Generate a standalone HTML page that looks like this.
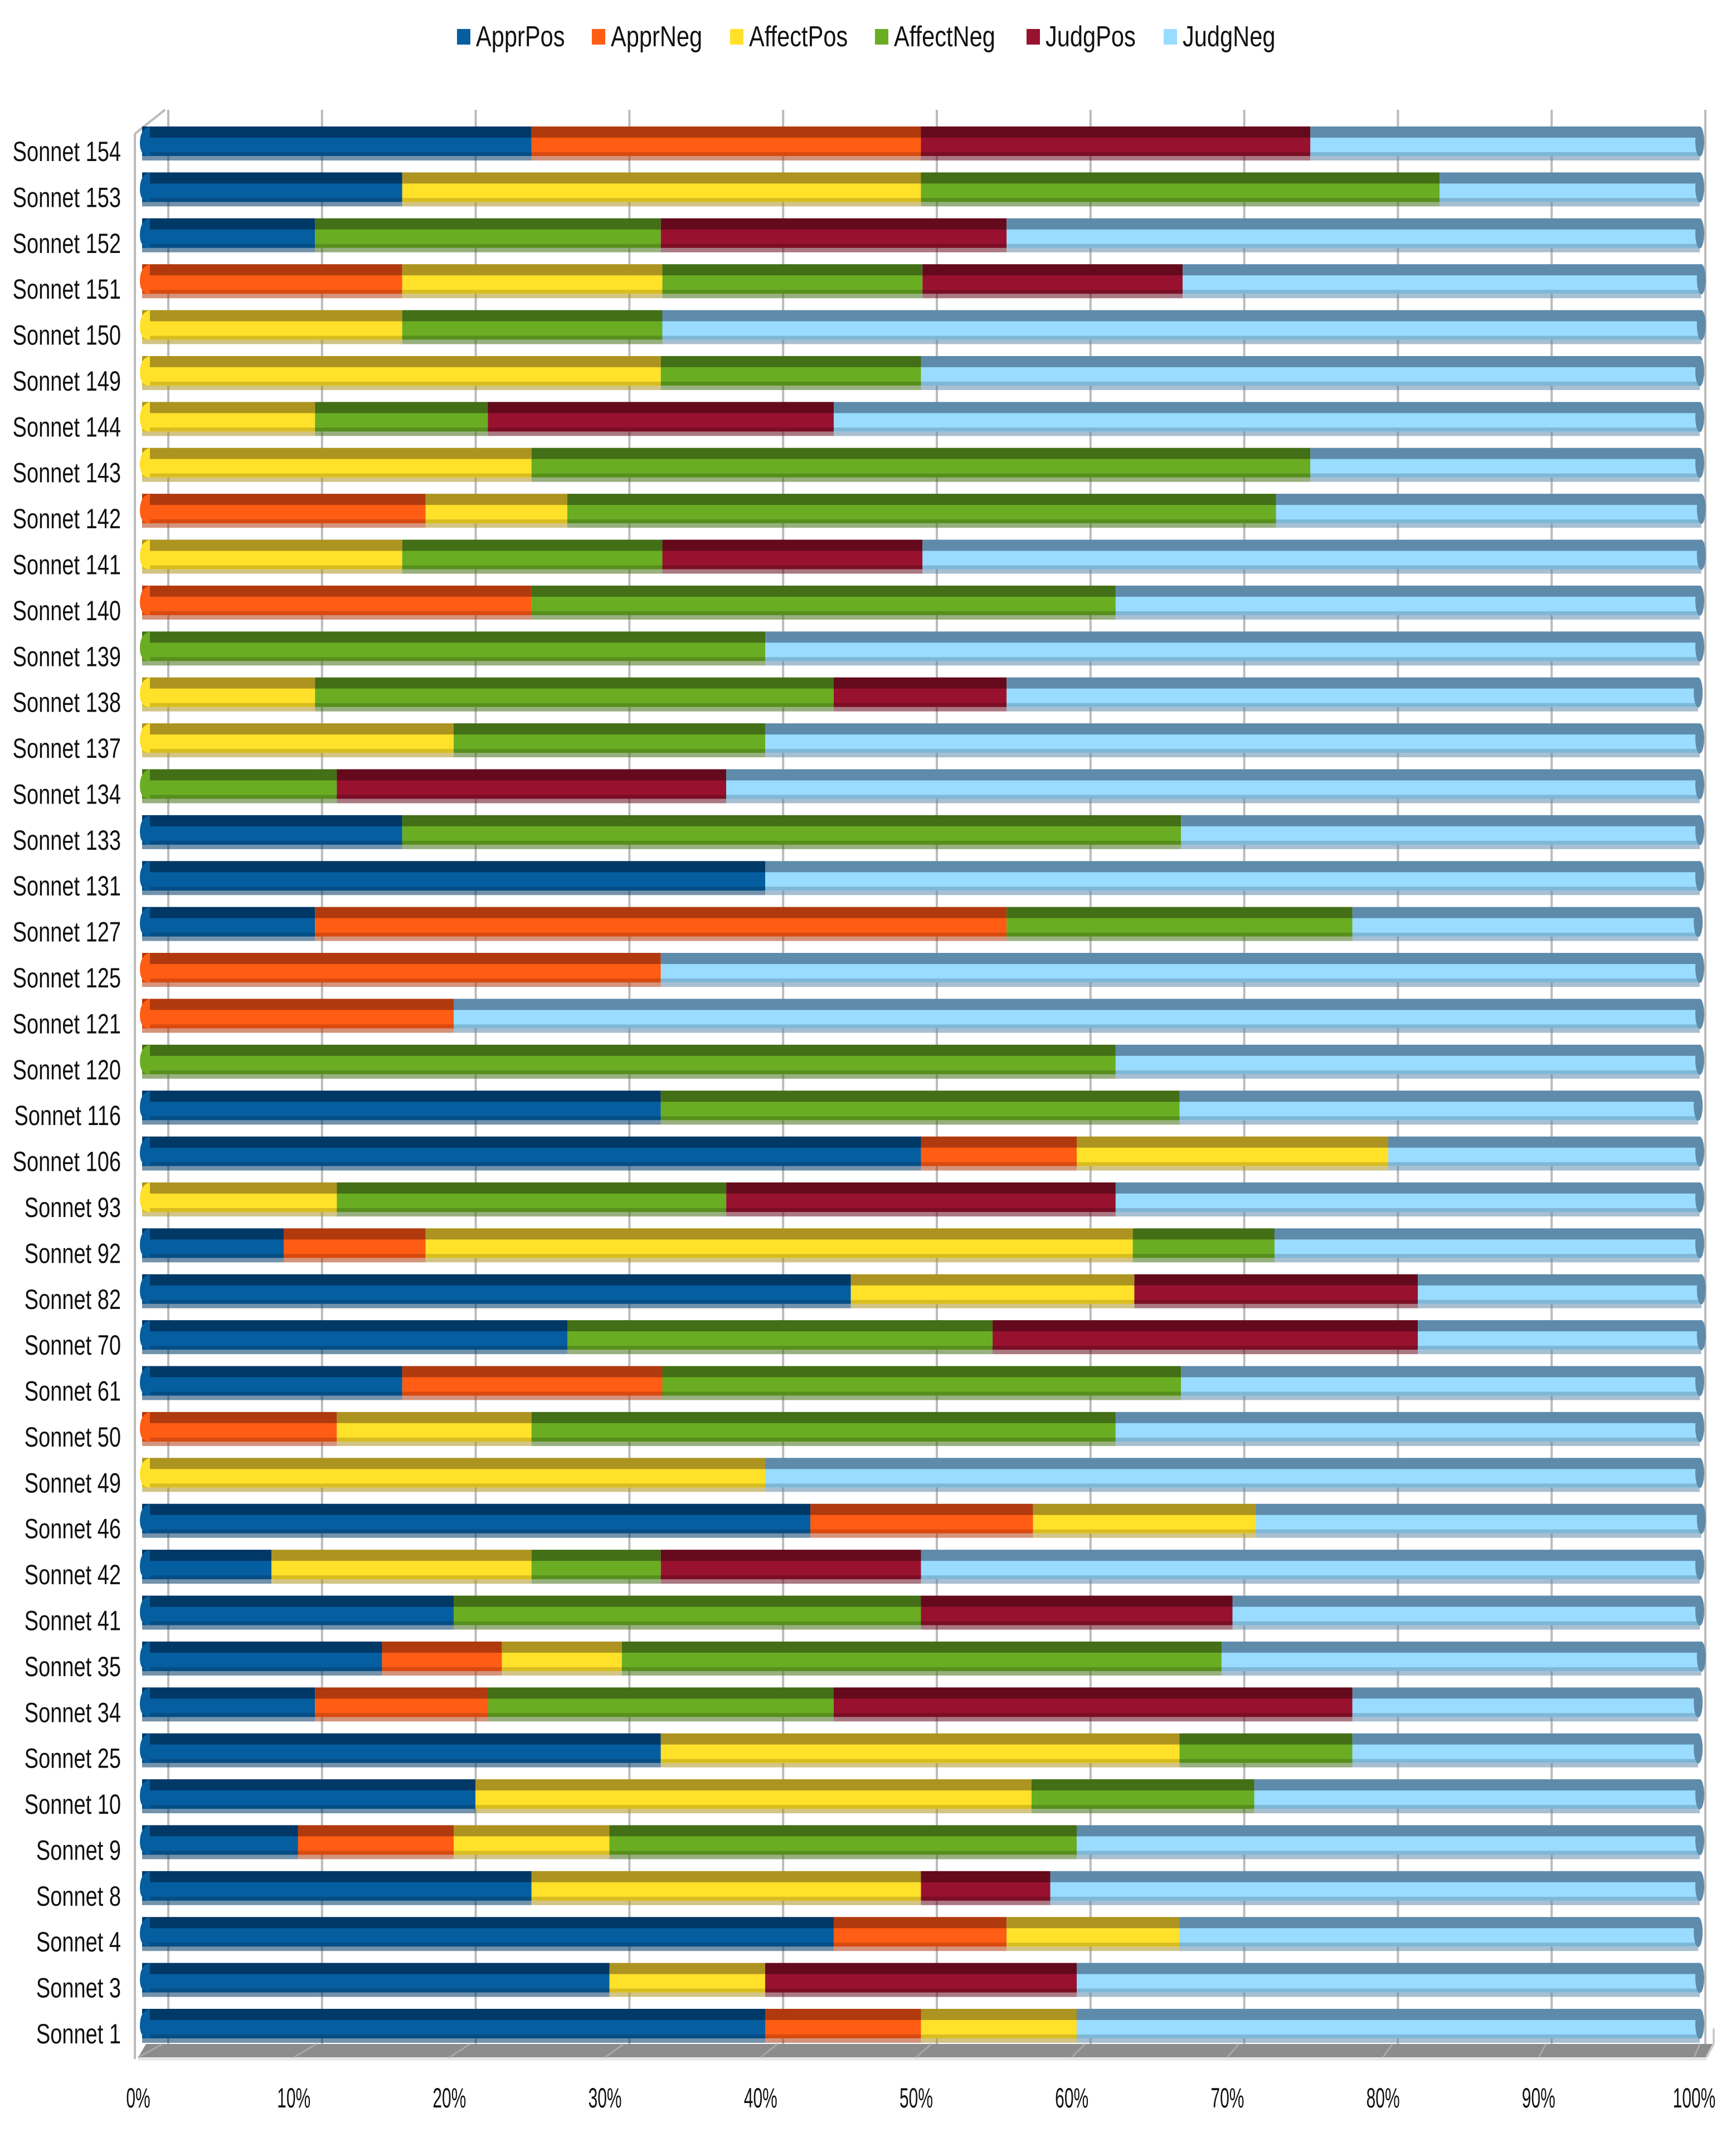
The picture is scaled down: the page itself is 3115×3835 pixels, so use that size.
<!DOCTYPE html>
<html><head><meta charset="utf-8"><style>
html,body{margin:0;padding:0;background:#fff;}
svg{display:block;font-family:"Liberation Sans",sans-serif;}
</style></head>
<body>
<svg id="chart" width="3115" height="3835" viewBox="0 0 3115 3835" xmlns="http://www.w3.org/2000/svg">
<g id="legend"></g>
<g id="walls"></g>
<g id="bars"></g>
<g id="ylabels"></g>
<g id="xlabels"></g>
</svg>
<script>
const categories = ["Sonnet 154","Sonnet 153","Sonnet 152","Sonnet 151","Sonnet 150","Sonnet 149","Sonnet 144","Sonnet 143","Sonnet 142","Sonnet 141","Sonnet 140","Sonnet 139","Sonnet 138","Sonnet 137","Sonnet 134","Sonnet 133","Sonnet 131","Sonnet 127","Sonnet 125","Sonnet 121","Sonnet 120","Sonnet 116","Sonnet 106","Sonnet 93","Sonnet 92","Sonnet 82","Sonnet 70","Sonnet 61","Sonnet 50","Sonnet 49","Sonnet 46","Sonnet 42","Sonnet 41","Sonnet 35","Sonnet 34","Sonnet 25","Sonnet 10","Sonnet 9","Sonnet 8","Sonnet 4","Sonnet 3","Sonnet 1"];
const seriesNames = ["ApprPos","ApprNeg","AffectPos","AffectNeg","JudgPos","JudgNeg"];
const apprPos  = [25,16.7,11.1,0,0,0,0,0,0,0,0,0,0,0,0,16.7,40,11.1,0,0,0,33.3,50,0,9.1,45.5,27.3,16.7,0,0,42.9,8.3,20,15.4,11.1,33.3,21.4,10,25,44.4,30,40];
const apprNeg  = [25,0,0,16.7,0,0,0,0,18.2,0,25,0,0,0,0,0,0,44.4,33.3,20,0,0,10,0,9.1,0,0,16.7,12.5,0,14.3,0,0,7.7,11.1,0,0,10,0,11.1,0,10];
const affectPos= [0,33.3,0,16.7,16.7,33.3,11.1,25,9.1,16.7,0,0,11.1,20,0,0,0,0,0,0,0,0,20,12.5,45.4,18.2,0,0,12.5,40,14.3,16.7,0,7.7,0,33.3,35.7,10,25,11.1,10,10];
const affectNeg= [0,33.3,22.2,16.7,16.7,16.7,11.1,50,45.5,16.7,37.5,40,33.3,20,12.5,50,0,22.2,0,0,62.5,33.3,0,25,9.1,0,27.3,33.3,37.5,0,0,8.3,30,38.5,22.2,11.1,14.3,30,0,0,0,0];
const judgPos  = [25,0,22.2,16.7,0,0,22.2,0,0,16.7,0,0,11.1,0,25,0,0,0,0,0,0,0,0,25,0,18.2,27.3,0,0,0,0,16.7,20,0,33.3,0,0,0,8.3,0,20,0];
const judgNeg  = [25,16.7,44.5,33.3,66.7,50,55.6,25,27.3,50,37.5,60,44.4,60,62.5,33.3,60,22.2,66.7,80,37.5,33.3,20,37.5,27.3,18.2,18.2,33.3,37.5,60,28.6,50,30,30.8,22.2,22.2,28.6,40,41.7,33.3,40,40];
const xTicks = ["0%","10%","20%","30%","40%","50%","60%","70%","80%","90%","100%"];

const series=[apprPos,apprNeg,affectPos,affectNeg,judgPos,judgNeg];
const main=["#055ea0","#ff5c14","#ffe12a","#6aad23","#98122f","#99dcff"];
const topc=["#003866","#b03a0e","#ad9420","#436f16","#650a1d","#5f8bab"];
const botc=["#054e85","#d84a10","#d8bd20","#578f1c","#7b0e25","#7fb7d6"];
const NS="http://www.w3.org/2000/svg";
function mk(tag,attrs,parent){const e=document.createElementNS(NS,tag);for(const k in attrs)e.setAttribute(k,attrs[k]);parent.appendChild(e);return e;}
const X0=255,X1=3050;
const xs=v=>X0+(X1-X0)*v/100;
const pitch=(3605-227)/(categories.length-1);
const rowTop=i=>227+i*pitch;

const walls=document.getElementById('walls');
mk('polygon',{points:"248,3692 262,3668 3075,3668 3062,3692",fill:"#8c8c8c"},walls);
mk('line',{x1:242,y1:240,x2:242,y2:3695,stroke:"#bbb","stroke-width":4},walls);
mk('line',{x1:242,y1:240,x2:296,y2:197,stroke:"#bbb","stroke-width":4},walls);
mk('line',{x1:248,y1:3695,x2:3062,y2:3695,stroke:"#e4e4e4","stroke-width":5},walls);
mk('line',{x1:3062,y1:3692,x2:3075,y2:3668,stroke:"#ccc","stroke-width":4},walls);
mk('line',{x1:3075,y1:3668,x2:3075,y2:3640,stroke:"#ccc","stroke-width":4},walls);
for(let i=0;i<xTicks.length;i++){
  const bx=302+i*(3060-302)/10;
  const g=mk('line',{x1:bx,y1:197,x2:bx,y2:3668,stroke:"#bbb","stroke-width":4},walls);
  
  
  const fx=248+i*(3040-248)/10;
  mk('line',{x1:fx,y1:3692,x2:bx-10,y2:3668,stroke:"#a8a8a8","stroke-width":3},walls);
}

const bars=document.getElementById('bars');
for(let i=0;i<categories.length;i++){
  const t=rowTop(i);
  const row=mk('g',{},bars);
  
  
  let cum=0;
  let lastIdx=-1;for(let s=0;s<6;s++)if(series[s][i]>0)lastIdx=s;
  for(let s=0;s<6;s++){
    const v=series[s][i];if(!(v>0))continue;
    const a=xs(cum),b=xs(cum+v);cum+=v;
    const g=mk('g',{},row);
    
    
    const w=Math.max(1,b-a);
    mk('rect',{x:a,y:t+53,width:w,height:8,fill:topc[s],opacity:0.55},g);
    mk('rect',{x:a,y:t,width:w,height:22,fill:topc[s]},g);
    mk('rect',{x:a,y:t+20,width:w,height:33,fill:main[s]},g);
    mk('rect',{x:a,y:t+46,width:w,height:7,fill:botc[s]},g);
    if(s===lastIdx){mk('ellipse',{cx:b,cy:t+27,rx:8,ry:27,fill:topc[s]},g);}
  }
  let first=0;for(let s=0;s<6;s++){if(series[s][i]>0){first=s;break;}}
  const c=mk('path',{d:`M${X0+14},${t} Q${X0-4},${t+4} ${X0-4},${t+30} Q${X0-4},${t+53} ${X0+14},${t+53} Z`,fill:main[first]},row);
  
  
}

const yl=document.getElementById('ylabels');
for(let i=0;i<categories.length;i++){
  const tx=mk('text',{x:217/0.76,y:rowTop(i)+62,'text-anchor':'end','font-size':50,fill:"#111",transform:"scale(0.76,1)"},yl);
  tx.textContent=categories[i];
  
  
}
const xl=document.getElementById('xlabels');
for(let i=0;i<xTicks.length;i++){
  const fx=248+i*(3040-248)/10;
  const tx=mk('text',{x:fx/0.6,y:3782,'text-anchor':'middle','font-size':50,fill:"#111",transform:"scale(0.6,1)"},xl);
  tx.textContent=xTicks[i];
  
  
}
const lg=document.getElementById('legend');
const lx=[820,1062,1310,1570,1842,2088];
for(let s=0;s<6;s++){
  const g=mk('g',{},lg);
  
  
  mk('rect',{x:lx[s],y:52,width:24,height:28,fill:main[s]},g);
  const tx=mk('text',{x:(lx[s]+34)/0.8,y:83,'font-size':52,fill:"#111",transform:"scale(0.8,1)"},g);
  tx.textContent=seriesNames[s];
}
</script>
</body></html>
